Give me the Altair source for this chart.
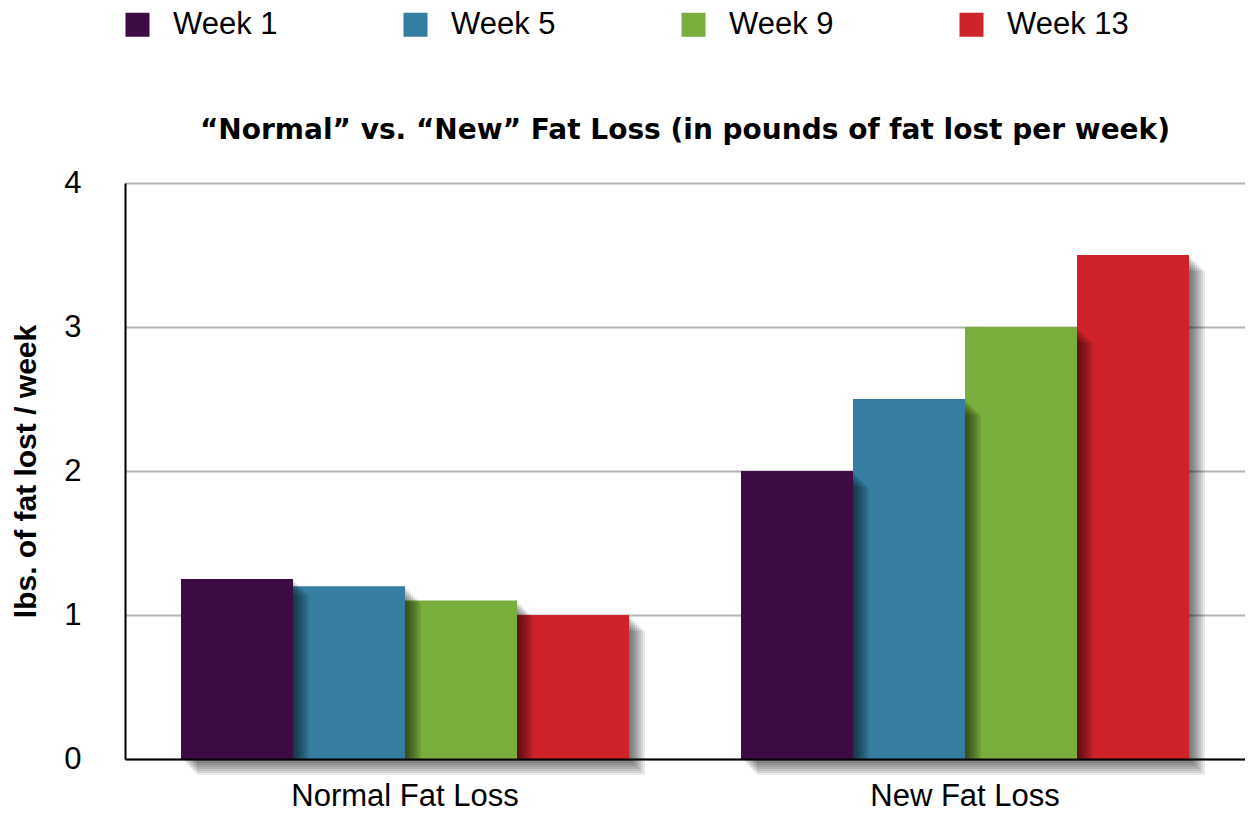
import altair as alt
import pandas as pd

categories = ["Normal Fat Loss", "New Fat Loss"]
weeks = ["Week 1", "Week 5", "Week 9", "Week 13"]
normal_vals = [1.25, 1.2, 1.1, 1.0]
new_vals = [2.0, 2.5, 3.0, 3.5]
colors = ["#3d0c45", "#357ea1", "#79ad3c", "#d0222b"]
title_text = "\u201cNormal\u201d vs. \u201cNew\u201d Fat Loss (in pounds of fat lost per week)"

rows = []
for w, v in zip(weeks, normal_vals):
    rows.append({"cat": categories[0], "week": w, "val": v})
for w, v in zip(weeks, new_vals):
    rows.append({"cat": categories[1], "week": w, "val": v})
df = pd.DataFrame(rows)

FONT = "Liberation Sans"
W, H = 1120, 576
BAND = W / 2 * 0.8

x_enc = alt.X("cat:N", sort=categories, title=None,
              scale=alt.Scale(domain=categories, paddingInner=0.2, paddingOuter=0.1),
              axis=alt.Axis(labelAngle=0, labelFontSize=31, labelFont=FONT, labelColor="black",
                            labelPadding=46, labelBaseline="alphabetic", labelLimit=0,
                            ticks=False, domain=True, domainColor="black", domainWidth=2,
                            grid=False, zindex=1))
y_enc = alt.Y("val:Q", title="lbs. of fat lost / week",
              scale=alt.Scale(domain=[0, 4]),
              axis=alt.Axis(values=[0, 1, 2, 3, 4], format="d", labelFontSize=31, labelFont=FONT,
                            labelColor="black", labelPadding=44, ticks=False, domain=True,
                            domainColor="black", domainWidth=2, grid=True, gridColor="#b4b4b4",
                            gridWidth=2, titleFont=FONT, titleFontSize=30, titleFontWeight="bold",
                            titleColor="black", titlePadding=22))
color_enc = alt.Color("week:N", sort=weeks,
                      scale=alt.Scale(domain=weeks, range=colors),
                      legend=alt.Legend(title=None, orient="none", legendX=-3, legendY=-174,
                                        direction="horizontal", columns=4, gridAlign="all",
                                        columnPadding=105, symbolType="square", symbolSize=576,
                                        symbolStrokeWidth=0, labelFontSize=31, labelFont=FONT,
                                        labelColor="black", labelOffset=20, labelLimit=0))


def xo(shift):
    return alt.XOffset("week:N", sort=weeks,
                       scale=alt.Scale(domain=weeks, range=[shift, BAND + shift],
                                       paddingInner=0, paddingOuter=0))


base = alt.Chart(df)
layers = []
for w in reversed(weeks):
    for d in [2, 4, 6, 8, 10, 12, 14, 16]:
        layers.append(
            base.transform_filter(alt.datum.week == w)
            .mark_bar(color="black", opacity=0.085, yOffset=d, y2Offset=d)
            .encode(x=x_enc, xOffset=xo(d), y=y_enc)
        )
    layers.append(
        base.transform_filter(alt.datum.week == w)
        .mark_bar(opacity=1)
        .encode(x=x_enc, xOffset=xo(0), y=y_enc, color=color_enc)
    )

title_layer = alt.Chart(pd.DataFrame({"t": [title_text]})).mark_text(
    font="DejaVu Sans", fontSize=28, fontWeight="bold", color="black", align="center",
    baseline="middle"
).encode(x=alt.value(W / 2), y=alt.value(-52), text="t:N")
layers.append(title_layer)

chart = alt.layer(*layers).resolve_scale(xOffset="independent").properties(
    width=W, height=H,
    padding={"left": 117, "top": 175, "right": 0, "bottom": 47},
    autosize="none",
).configure_view(stroke="black", strokeWidth=2).configure(background="white")

chart.save("out.html", embed_options={"renderer": "svg", "actions": False})
